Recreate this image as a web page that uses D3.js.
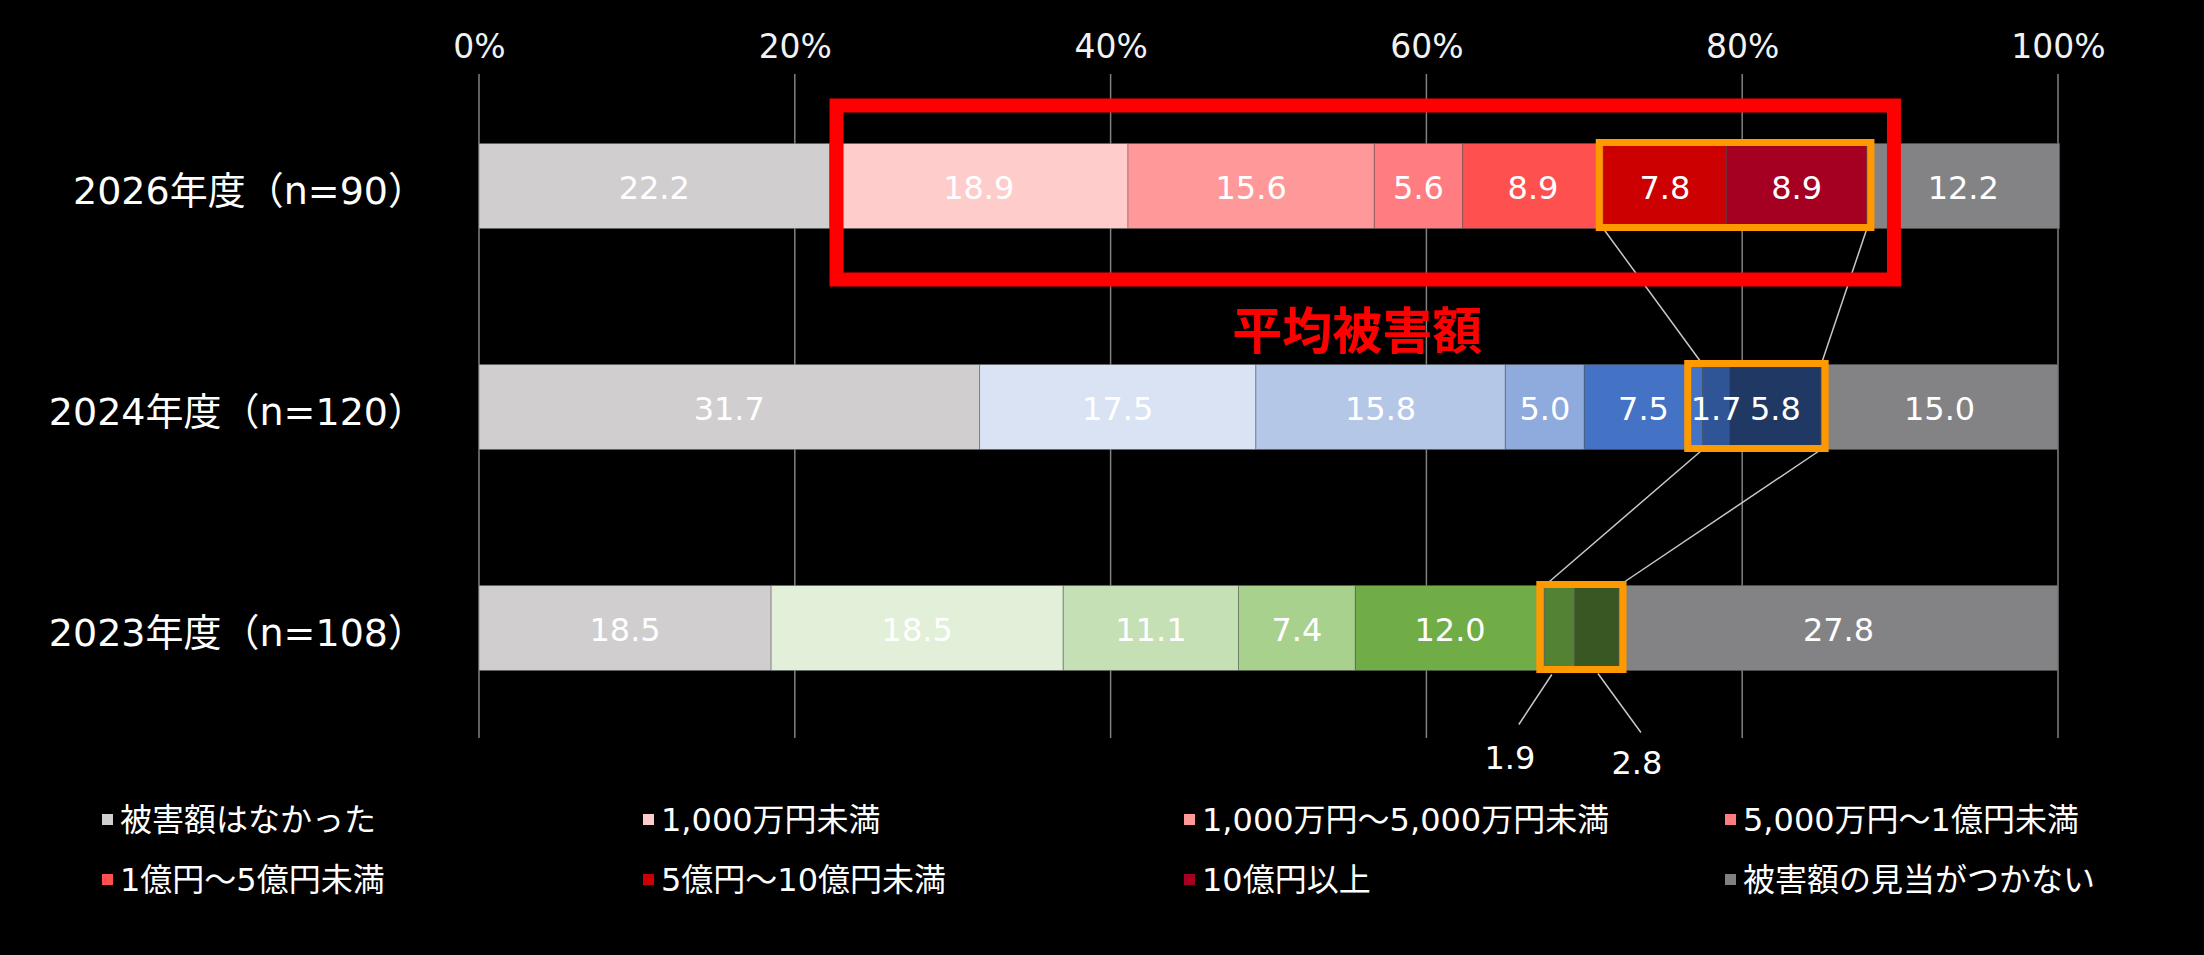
<!DOCTYPE html>
<html><head><meta charset="utf-8">
<script src="https://cdn.jsdelivr.net/npm/d3@7"></script>
<style>html,body{margin:0;padding:0;background:#000;} svg{display:block;}</style>
</head><body>
<svg id="chart" width="2204" height="955"></svg>
<script>
// ---- data ----
const categories = ["2026年度（n=90）", "2024年度（n=120）", "2023年度（n=108）"];
const seriesNames = ["被害額はなかった", "1,000万円未満", "1,000万円～5,000万円未満", "5,000万円～1億円未満",
  "1億円～5億円未満", "5億円～10億円未満", "10億円以上", "被害額の見当がつかない"];
const values2026 = [22.2, 18.9, 15.6, 5.6, 8.9, 7.8, 8.9, 12.2];
const values2024 = [31.7, 17.5, 15.8, 5.0, 7.5, 1.7, 5.8, 15.0];
const values2023 = [18.5, 18.5, 11.1, 7.4, 12.0, 1.9, 2.8, 27.8];
const tickValues = [0, 20, 40, 60, 80, 100];
const highlightSeries = [5, 6];
const annotationText = "平均被害額";

// ---- styles ----
const colors2026 = ["#d0cece", "#ffcccc", "#ff9999", "#ff7c80", "#ff5050", "#cc0000", "#a50021", "#838386"];
const colors2024 = ["#d0cece", "#dae3f3", "#b4c7e7", "#8faadc", "#4472c4", "#2f5597", "#203864", "#838386"];
const colors2023 = ["#d0cece", "#e2f0d9", "#c5e0b4", "#a9d18e", "#70ad47", "#548235", "#385723", "#838386"];
const boxPadLeft = [4, 15, 5];
const rows = [
  {cat: categories[0], values: values2026, colors: colors2026, outside: false},
  {cat: categories[1], values: values2024, colors: colors2024, outside: false},
  {cat: categories[2], values: values2023, colors: colors2023, outside: true}
];

const svg = d3.select("#chart");
svg.append("rect").attr("width", 2204).attr("height", 955).attr("fill", "#000");

const latin = "'DejaVu Sans', 'Noto Sans CJK JP', sans-serif";
const cjk = "'Noto Sans CJK JP', sans-serif";

const x = d3.scaleLinear().domain([0, 100]).range([479, 2058]);
const y = d3.scaleBand().domain(categories).range([75.5, 738.5]).paddingInner(0.6154).paddingOuter(0.3077);

// gridlines
svg.append("g").selectAll("line").data(tickValues).join("line")
  .attr("x1", d => x(d)).attr("x2", d => x(d))
  .attr("y1", 74).attr("y2", 738)
  .attr("stroke", "#808080").attr("stroke-width", 1.5);

// top axis labels
const axis = d3.axisTop(x).tickValues(tickValues).tickFormat(d => d + "%").tickSize(0).tickPadding(0);
const ag = svg.append("g").attr("transform", "translate(0,58)").call(axis);
ag.select(".domain").remove();
ag.selectAll("text").attr("fill", "#f2f2f2").attr("font-size", 33).attr("font-family", latin);

// category labels
svg.append("g").selectAll("text").data(categories).join("text")
  .attr("x", 426).attr("y", d => y(d) + y.bandwidth() / 2 + 5)
  .attr("text-anchor", "end").attr("dominant-baseline", "central")
  .attr("fill", "#ffffff").attr("font-size", 38).attr("font-family", latin)
  .text(d => d);

// stacked segments
rows.forEach(r => {
  let acc = 0;
  r.segs = r.values.map((v, i) => { const s = {i, v, x0: acc, x1: acc + v, color: r.colors[i]}; acc += v; return s; });
  const g = svg.append("g");
  g.selectAll("rect").data(r.segs).join("rect")
    .attr("x", d => x(d.x0)).attr("width", d => x(d.x1) - x(d.x0))
    .attr("y", y(r.cat)).attr("height", y.bandwidth())
    .attr("fill", d => d.color)
    .attr("stroke", "rgba(90,90,90,0.45)").attr("stroke-width", 1);
  g.selectAll("text").data(r.segs.filter(d => !(r.outside && highlightSeries.includes(d.i)))).join("text")
    .attr("x", d => x((d.x0 + d.x1) / 2)).attr("y", y(r.cat) + y.bandwidth() / 2 + 2)
    .attr("text-anchor", "middle").attr("dominant-baseline", "central")
    .attr("fill", "#ffffff").attr("font-size", 32).attr("font-family", latin)
    .text(d => d.v.toFixed(1));
});

// highlight boxes + connectors
const hi = rows.map((r, k) => {
  const s = r.segs[highlightSeries[0]], e = r.segs[highlightSeries[highlightSeries.length - 1]];
  return {start: s.x0, end: e.x1, top: y(r.cat), bottom: y(r.cat) + y.bandwidth(), pad: boxPadLeft[k]};
});
const conn = svg.append("g");
for (let k = 0; k < hi.length - 1; k++) {
  const a = hi[k], b = hi[k + 1];
  ["start", "end"].forEach(p => {
    conn.append("line")
      .attr("x1", x(a[p])).attr("y1", a.bottom)
      .attr("x2", x(b[p])).attr("y2", b.top)
      .attr("stroke", "#c8c8c8").attr("stroke-width", 1.5);
  });
}
svg.append("g").selectAll("rect").data(hi).join("rect")
  .attr("x", d => x(d.start) - d.pad).attr("width", d => x(d.end) - x(d.start) + d.pad + 4)
  .attr("y", d => d.top - 1).attr("height", y.bandwidth())
  .attr("fill", "none").attr("stroke", "#ff9900").attr("stroke-width", 7);

// outside callouts (2023)
const last = rows[2];
const calloutOffsets = [{lx0: -8, ly0: 4, lx1: -41, ly1: 54, tx: -50, ty: 88},
                        {lx0: 1, ly0: 3, lx1: 44, ly1: 62, tx: 40, ty: 93}];
const cg = svg.append("g");
highlightSeries.forEach((si, k) => {
  const d = last.segs[si];
  const mx = x((d.x0 + d.x1) / 2), by = y(last.cat) + y.bandwidth();
  const o = calloutOffsets[k];
  cg.append("line").attr("x1", mx + o.lx0).attr("y1", by + o.ly0).attr("x2", mx + o.lx1).attr("y2", by + o.ly1)
    .attr("stroke", "#c8c8c8").attr("stroke-width", 1.5);
  cg.append("text").attr("x", mx + o.tx).attr("y", by + o.ty)
    .attr("text-anchor", "middle").attr("dominant-baseline", "central")
    .attr("fill", "#ffffff").attr("font-size", 32).attr("font-family", latin)
    .text(d.v.toFixed(1));
});

// red annotation box
const top0 = y(categories[0]), bot0 = top0 + y.bandwidth();
const bx0 = x(values2026[0]) + 7, bx1 = x(hi[0].end) + 27;
svg.append("rect").attr("x", bx0).attr("y", top0 - 38).attr("width", bx1 - bx0).attr("height", bot0 + 51 - (top0 - 38))
  .attr("fill", "none").attr("stroke", "#ff0000").attr("stroke-width", 14);
svg.append("text").attr("x", (bx0 + bx1) / 2 - 8).attr("y", bot0 + 99)
  .attr("text-anchor", "middle").attr("dominant-baseline", "central")
  .attr("fill", "#ff0000").attr("font-size", 50).attr("font-weight", "bold").attr("font-family", cjk)
  .text(annotationText);

// legend
const legendColors = colors2026.slice(0, 7).concat(["#808080"]);
const lg = svg.append("g");
seriesNames.forEach((name, i) => {
  const col = i % 4, row = Math.floor(i / 4);
  const lx = 102 + col * 541, ly = 820 + row * 60;
  lg.append("rect").attr("x", lx).attr("y", ly - 6).attr("width", 11).attr("height", 11).attr("fill", legendColors[i]);
  lg.append("text").attr("x", lx + 18).attr("y", ly).attr("dominant-baseline", "central")
    .attr("fill", "#ffffff").attr("font-size", 32).attr("font-family", latin).text(name);
});
</script>
</body></html>
